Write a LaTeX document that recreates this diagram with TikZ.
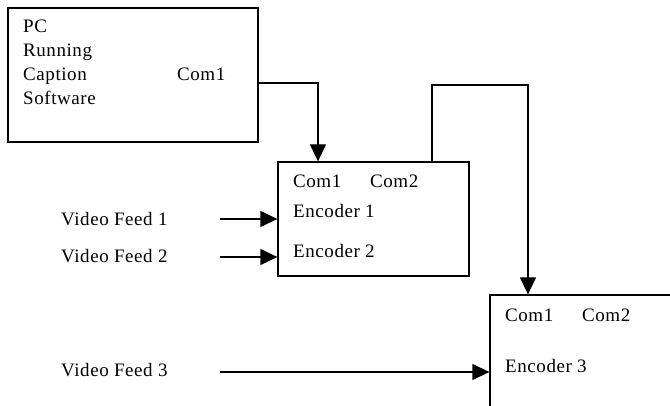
\documentclass[tikz,border=0pt]{standalone}
\usepackage{fontspec}
\setmainfont{Liberation Serif}[LetterSpace=3]
\usetikzlibrary{arrows.meta,calc}
\tikzset{
  box/.style={draw, line width=1.3pt, rectangle, inner sep=0pt},
  lbl/.style={anchor=base west, inner sep=0pt, font=\fontsize{19}{22}\selectfont},
  wire/.style={line width=1.3pt},
  arr/.style={wire, -{Triangle[length=17pt,width=16pt]}},
}
\begin{document}
\begin{tikzpicture}[x=1pt,y=-1pt]
\useasboundingbox (0,0) rectangle (670,406);
\clip (0,0) rectangle (670,406);

% boxes
\node[box, minimum width=250pt, minimum height=134pt] (pc) at (133,75) {};
\node[box, minimum width=191pt, minimum height=114pt] (enc) at (373.5,219) {};
\node[box, minimum width=220pt, minimum height=150pt] (enc3) at (600,370) {};

% PC box text
\node[lbl] (pctxt1) at (23,33) {PC};
\node[lbl] (pctxt2) at (23,57) {Running};
\node[lbl] (pctxt3) at (23,81) {Caption};
\node[lbl] (pctxt4) at (23,105) {Software};
\node[lbl] (pccom) at (177,81) {Com1};

% encoder 1/2 text
\node[lbl] (e1com1) at (293,188) {Com1};
\node[lbl] (e1com2) at (370,188) {Com2};
\node[lbl] (e1) at (293,218) {Encoder 1};
\node[lbl] (e2) at (293,258) {Encoder 2};

% encoder 3 text
\node[lbl] (e3com1) at (505,322) {Com1};
\node[lbl] (e3com2) at (582,322) {Com2};
\node[lbl] (e3) at (505,372) {Encoder 3};

% video feeds
\node[lbl] (feed1) at (61,226) {Video Feed 1};
\node[lbl] (feed2) at (61,263) {Video Feed 2};
\node[lbl] (feed3) at (61,377) {Video Feed 3};

\coordinate (f1) at (220,219);
\coordinate (f2) at (220,257);
\coordinate (f3) at (220,372);
\draw[arr] (f1) -- (f1 -| enc.west);
\draw[arr] (f2) -- (f2 -| enc.west);
\draw[arr] (f3) -- (f3 -| enc3.west);

% serial links
\coordinate (pcport) at ($(pc.east)+(0,8)$);
\coordinate (encin) at (318,0);
\draw[arr] (pcport) -| (encin |- enc.north);

\coordinate (encout) at (432,0);
\coordinate (e3in) at (528,0);
\draw[arr] (encout |- enc.north) -- (encout |- 0,85) -| (e3in |- enc3.north);
\end{tikzpicture}
\end{document}
